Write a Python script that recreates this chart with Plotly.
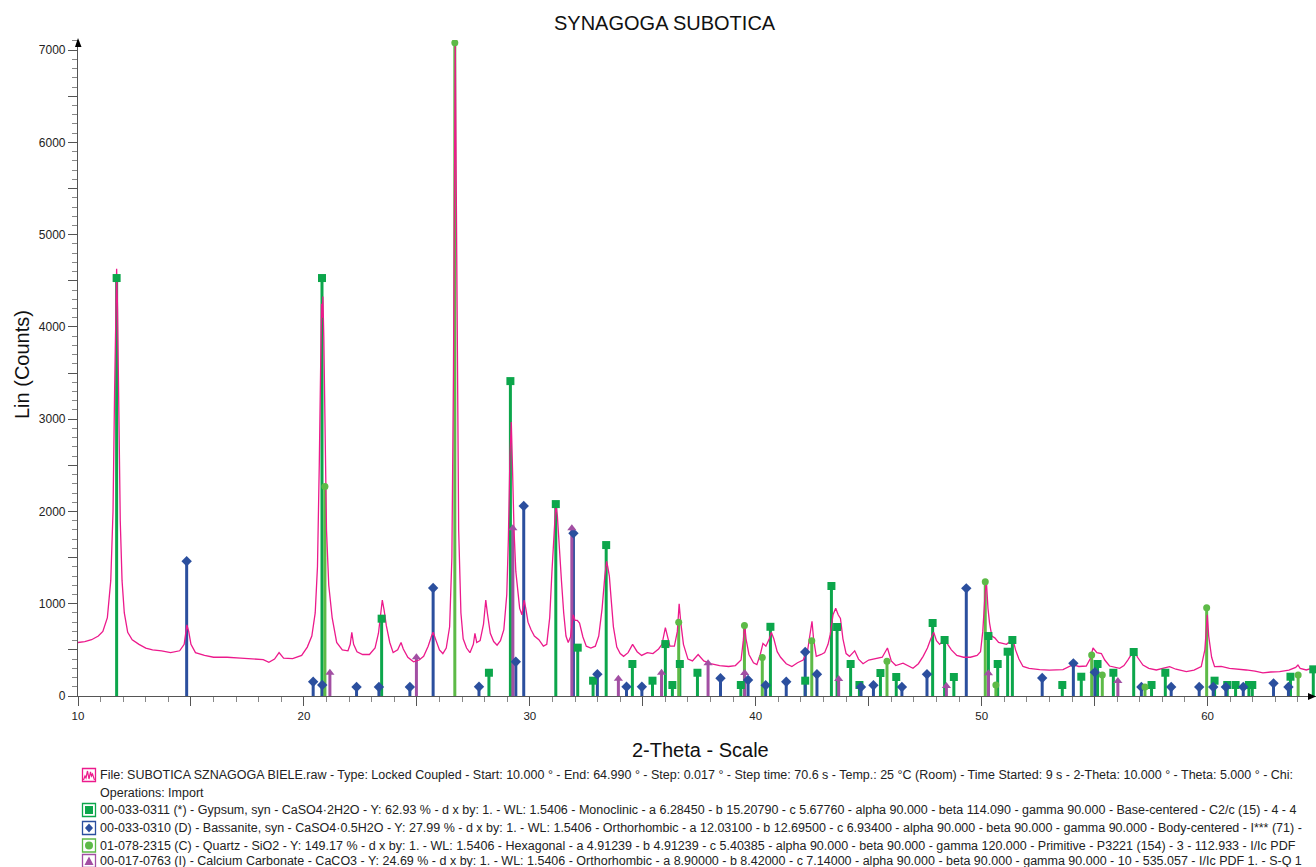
import plotly.graph_objects as go

# ---------------- data ----------------
# measured pattern (2-Theta, counts) read from the picture
scan_2theta = [
    10.0, 10.3, 10.6, 10.9, 11.1, 11.3, 11.45, 11.55, 11.62, 11.68, 11.71, 11.75, 11.8, 11.87, 11.95,
    12.05, 12.2, 12.4, 12.7, 13.0, 13.3, 13.7, 14.1, 14.5, 14.7, 14.82, 14.9, 15.0, 15.2, 15.6,
    16.0, 16.6, 17.2, 17.8, 18.2, 18.45, 18.7, 18.9, 19.1, 19.5, 19.9, 20.15, 20.35, 20.5, 20.6,
    20.68, 20.74, 20.78, 20.81, 20.84, 20.88, 20.95, 21.0, 21.1, 21.25, 21.45, 21.7, 21.95, 22.05,
    22.12, 22.2, 22.35, 22.6, 22.9, 23.15, 23.3, 23.42, 23.47, 23.55, 23.65, 23.8, 23.95, 24.15,
    24.3, 24.4, 24.6, 24.85, 25.1, 25.3, 25.5, 25.65, 25.72, 25.85, 26.0, 26.15, 26.3, 26.45,
    26.55, 26.62, 26.67, 26.7, 26.73, 26.78, 26.85, 26.95, 27.05, 27.2, 27.35, 27.5, 27.57, 27.65,
    27.8, 27.95, 28.05, 28.12, 28.25, 28.4, 28.55, 28.7, 28.85, 28.98, 29.05, 29.12, 29.18, 29.24,
    29.3, 29.38, 29.45, 29.55, 29.65, 29.75, 29.82, 29.92, 30.05, 30.2, 30.4, 30.6, 30.75, 30.88,
    30.98, 31.08, 31.15, 31.22, 31.3, 31.4, 31.5, 31.6, 31.7, 31.8, 31.92, 32.0, 32.1, 32.2, 32.35,
    32.5, 32.7, 32.9, 33.05, 33.2, 33.32, 33.4, 33.45, 33.52, 33.6, 33.7, 33.85, 34.0, 34.15, 34.35,
    34.55, 34.75, 34.95, 35.2, 35.45, 35.7, 35.85, 36.0, 36.1, 36.2, 36.4, 36.53, 36.61, 36.68,
    36.8, 37.0, 37.2, 37.45, 37.7, 38.0, 38.4, 38.8, 39.1, 39.35, 39.45, 39.51, 39.57, 39.7, 39.9,
    40.05, 40.2, 40.32, 40.45, 40.6, 40.69, 40.8, 40.95, 41.1, 41.35, 41.6, 41.85, 42.1, 42.3,
    42.42, 42.49, 42.56, 42.68, 42.9, 43.05, 43.2, 43.3, 43.42, 43.54, 43.65, 43.75, 43.86, 44.0,
    44.15, 44.38, 44.55, 44.75, 45.0, 45.34, 45.6, 45.83, 46.0, 46.2, 46.52, 46.96, 47.2, 47.41,
    47.6, 47.75, 47.88, 48.0, 48.14, 48.3, 48.38, 48.5, 48.66, 48.9, 49.2, 49.5, 49.8, 49.95,
    50.05, 50.15, 50.21, 50.28, 50.35, 50.45, 50.58, 50.75, 50.94, 51.1, 51.3, 51.39, 51.5, 51.65,
    51.83, 52.1, 52.57, 53.0, 53.6, 54.04, 54.3, 54.63, 54.8, 54.93, 55.1, 55.3, 55.45, 55.66,
    56.11, 56.3, 56.47, 56.6, 56.77, 56.9, 57.14, 57.4, 57.73, 58.0, 58.32, 58.6, 59.06, 59.4,
    59.72, 59.88, 59.99, 60.05, 60.1, 60.18, 60.31, 60.6, 60.97, 61.3, 61.71, 62.1, 62.45, 62.8,
    63.19, 63.6, 63.9, 64.0, 64.1, 64.37, 64.6, 64.99,
]
scan_counts = [
    580, 590, 610, 650, 700, 850, 1250, 2000, 3300, 4500, 4630, 4200, 3000, 1900, 1250,
    900, 690, 610, 560, 520, 500, 490, 470, 490, 560, 770, 700, 560, 470, 440,
    420, 420, 410, 405, 395, 365, 400, 470, 410, 405, 440, 530, 650, 900, 1400,
    2500, 3800, 4250, 4100, 4330, 3900, 2600, 1800, 1200, 850, 580, 500, 490, 560,
    690, 560, 480, 450, 450, 520, 680, 960, 1040, 930, 760, 580, 470, 500,
    580, 510, 420, 370, 390, 430, 540, 650, 690, 600, 500, 460, 520, 750,
    1500, 3500, 6000, 7060, 6000, 3800, 1800, 900, 620, 520, 470, 560, 680, 580,
    600, 780, 1040, 900, 680, 590, 550, 600, 720, 1100, 1700, 2600, 2970, 2400,
    1800, 1350, 1150, 950, 880, 1040, 950, 800, 720, 650, 610, 540, 560, 850,
    1350, 1850, 2080, 1950, 1600, 1250, 900, 650, 580, 640, 880, 820, 820, 790, 640,
    540, 520, 540, 650, 950, 1300, 1460, 1400, 1300, 1050, 750, 530, 460, 430, 470,
    560, 480, 440, 470, 460, 510, 560, 740, 640, 540, 540, 700, 1000, 800,
    560, 400, 380, 450, 380, 350, 330, 320, 330, 390, 600, 770, 620, 450, 360,
    340, 450, 570, 540, 620, 690, 620, 480, 420, 350, 320, 360, 390, 500,
    700, 810, 620, 430, 450, 470, 560, 670, 880, 950, 880, 840, 620, 460,
    430, 490, 400, 350, 390, 410, 420, 520, 380, 330, 355, 300, 350, 430,
    520, 620, 690, 600, 560, 600, 630, 560, 500, 440, 420, 420, 440, 480,
    700, 1100, 1240, 950, 790, 650, 630, 580, 570, 560, 600, 610, 500, 400,
    320, 300, 285, 280, 285, 340, 320, 325, 400, 520, 470, 460, 390, 325,
    300, 330, 390, 440, 480, 420, 336, 300, 282, 300, 318, 290, 264, 280,
    318, 500, 880, 650, 550, 420, 318, 320, 300, 295, 282, 270, 250, 260,
    264, 280, 310, 336, 300, 282, 300, 318,
]

# reference patterns (stick positions and heights)
gypsum_2theta = [11.71, 20.80, 23.44, 28.19, 29.14, 31.15, 32.12, 32.80, 33.38, 34.54, 35.43, 36.00,
                 36.31, 36.64, 37.42, 39.34, 40.65, 42.19, 43.35, 43.60, 44.20, 44.59, 45.52, 46.22,
                 47.83, 48.36, 48.77, 50.30, 50.71, 51.15, 51.36, 53.57, 54.41, 55.13, 55.83, 56.73,
                 57.52, 58.13, 60.31, 60.87, 61.24, 61.83, 61.98, 63.67, 64.68]
gypsum_counts = [4530, 4530, 838, 252, 3413, 2080, 524, 166, 1636, 347, 166, 563,
                 119, 347, 252, 119, 750, 166, 1192, 748, 347, 119, 249, 206,
                 791, 607, 206, 650, 347, 480, 607, 119, 209, 347, 252, 477,
                 119, 252, 166, 119, 119, 119, 119, 209, 289]

bassanite_2theta = [14.81, 20.41, 20.81, 22.33, 23.32, 24.69, 25.72, 27.75, 29.38, 29.73, 31.93, 32.99,
                    34.28, 34.96, 38.44, 39.66, 40.44, 41.35, 42.19, 42.71, 44.66, 45.21, 46.47, 47.58,
                    49.32, 52.68, 54.06, 55.01, 57.07, 58.39, 59.63, 60.25, 60.81, 61.58, 62.92, 63.58]
bassanite_counts = [1460, 155, 119, 97, 97, 97, 1170, 100, 372, 2059, 1763, 235,
                    101, 101, 192, 173, 116, 155, 477, 235, 97, 116, 97, 235,
                    1167, 195, 354, 257, 97, 97, 97, 97, 97, 97, 137, 97]

quartz_2theta = [20.93, 26.68, 36.59, 39.50, 40.29, 42.48, 45.81, 50.16, 50.63, 54.87, 55.34, 57.23,
                 59.96, 64.01]
quartz_counts = [2270, 7080, 798, 765, 417, 600, 376, 1239, 119, 444, 228, 97,
                 957, 228]

calcite_2theta = [21.15, 24.98, 29.25, 31.86, 33.92, 35.83, 37.89, 39.51, 43.67, 48.44, 50.30, 56.03]
calcite_counts = [252, 420, 1817, 1817, 186, 252, 354, 249, 184, 108, 246, 163]

x_tick_values = [10, 15, 20, 25, 30, 35, 40, 45, 50, 55, 60]
x_tick_labels = ["10", "", "20", "", "30", "", "40", "", "50", "", "60"]
y_tick_values = [0, 500, 1000, 1500, 2000, 2500, 3000, 3500, 4000, 4500, 5000, 5500, 6000, 6500, 7000]
y_tick_labels = ["0", "", "1000", "", "2000", "", "3000", "", "4000", "", "5000", "", "6000", "", "7000"]

legend_lines = [
    "File: SUBOTICA SZNAGOGA BIELE.raw - Type: Locked Coupled - Start: 10.000 ° - End: 64.990 ° - Step: 0.017 ° - Step time: 70.6 s - Temp.: 25 °C (Room) - Time Started: 9 s - 2-Theta: 10.000 ° - Theta: 5.000 ° - Chi:",
    "Operations: Import",
    "00-033-0311 (*) - Gypsum, syn - CaSO4·2H2O - Y: 62.93 % - d x by: 1. - WL: 1.5406 - Monoclinic - a 6.28450 - b 15.20790 - c 5.67760 - alpha 90.000 - beta 114.090 - gamma 90.000 - Base-centered - C2/c (15) - 4 - 4",
    "00-033-0310 (D) - Bassanite, syn - CaSO4·0.5H2O - Y: 27.99 % - d x by: 1. - WL: 1.5406 - Orthorhombic - a 12.03100 - b 12.69500 - c 6.93400 - alpha 90.000 - beta 90.000 - gamma 90.000 - Body-centered - I*** (71) -",
    "01-078-2315 (C) - Quartz - SiO2 - Y: 149.17 % - d x by: 1. - WL: 1.5406 - Hexagonal - a 4.91239 - b 4.91239 - c 5.40385 - alpha 90.000 - beta 90.000 - gamma 120.000 - Primitive - P3221 (154) - 3 - 112.933 - I/Ic PDF",
    "00-017-0763 (I) - Calcium Carbonate - CaCO3 - Y: 24.69 % - d x by: 1. - WL: 1.5406 - Orthorhombic - a 8.90000 - b 8.42000 - c 7.14000 - alpha 90.000 - beta 90.000 - gamma 90.000 - 10 - 535.057 - I/Ic PDF 1. - S-Q 1",
]

# ---------------- styles ----------------
W, H = 1316, 867
FONT = "Liberation Sans, Arial, sans-serif"
C_SCAN = "#EC1A8C"
C_GYP = "#0CA64B"
C_BAS = "#2B4F9E"
C_QTZ = "#5DBA47"
C_CAL = "#A24FA3"

PLOT_L, PLOT_R, PLOT_T, PLOT_B = 78, 1316, 40, 696


def fx(px):
    return px / W


def fy(py):
    return 1 - py / H


def sticks(xs, ys):
    sx, sy = [], []
    for a, b in zip(xs, ys):
        sx += [a, a, None]
        sy += [0, b, None]
    return sx, sy


fig = go.Figure()

phases = [
    ("Gypsum", gypsum_2theta, gypsum_counts, C_GYP, "square", 8),
    ("Bassanite", bassanite_2theta, bassanite_counts, C_BAS, "diamond", 8),
    ("Quartz", quartz_2theta, quartz_counts, C_QTZ, "circle", 7),
    ("Calcium Carbonate", calcite_2theta, calcite_counts, C_CAL, "triangle-up", 8),
]

for name, xs, ys, col, sym, sz in phases:
    sx, sy = sticks(xs, ys)
    fig.add_trace(go.Scatter(x=sx, y=sy, mode="lines", line=dict(color=col, width=3),
                             hoverinfo="skip", showlegend=False))

fig.add_trace(go.Scatter(x=scan_2theta, y=scan_counts, mode="lines",
                         line=dict(color=C_SCAN, width=1.3), showlegend=False, name="scan"))

for name, xs, ys, col, sym, sz in phases:
    fig.add_trace(go.Scatter(x=xs, y=ys, mode="markers",
                             marker=dict(symbol=sym, size=sz, color=col, line=dict(width=0)),
                             showlegend=False, name=name))

axis_col = "#555555"
fig.update_layout(
    width=W, height=H,
    margin=dict(l=0, r=0, t=0, b=0),
    template="none",
    paper_bgcolor="white", plot_bgcolor="white",
    showlegend=False,
    font=dict(family=FONT, color="#222222"),
    xaxis=dict(
        domain=[fx(PLOT_L), fx(PLOT_R)], range=[10, 64.8], automargin=False,
        showgrid=False, zeroline=False, showline=True, linecolor=axis_col, linewidth=1.2,
        tickmode="array", tickvals=x_tick_values, ticktext=x_tick_labels,
        ticks="outside", ticklen=9, tickwidth=1, tickcolor=axis_col,
        minor=dict(dtick=1, ticklen=5, tickcolor="#888888", tickwidth=1, ticks="outside", showgrid=False),
        tickfont=dict(size=11.5, color="#222222", family=FONT),
    ),
    yaxis=dict(
        domain=[fy(PLOT_B), fy(PLOT_T)], range=[0, 7110], automargin=False,
        showgrid=False, zeroline=False, showline=True, linecolor=axis_col, linewidth=1.2,
        tickmode="array", tickvals=y_tick_values, ticktext=y_tick_labels,
        ticks="outside", ticklen=9, tickwidth=1, tickcolor=axis_col,
        minor=dict(dtick=100, ticklen=5, tickcolor="#888888", tickwidth=1, ticks="outside", showgrid=False),
        tickfont=dict(size=12, color="#222222", family=FONT),
    ),
)

annotations = [
    dict(text="SYNAGOGA SUBOTICA", x=fx(665), y=fy(23), xref="paper", yref="paper",
         xanchor="center", yanchor="middle", showarrow=False,
         font=dict(size=20, family=FONT, color="#111111")),
    dict(text="2-Theta - Scale", x=fx(700), y=fy(750), xref="paper", yref="paper",
         xanchor="center", yanchor="middle", showarrow=False,
         font=dict(size=20, family=FONT, color="#111111")),
    dict(text="Lin (Counts)", x=fx(22), y=fy(365), xref="paper", yref="paper",
         xanchor="center", yanchor="middle", showarrow=False, textangle=-90,
         font=dict(size=20, family=FONT, color="#111111")),
]

line_y = [775, 793, 810, 828, 845.5, 861]
for txt, ly in zip(legend_lines, line_y):
    annotations.append(dict(text=txt, x=fx(97.5), y=fy(ly), xref="paper", yref="paper",
                            xanchor="left", yanchor="middle", showarrow=False,
                            font=dict(size=12.5, family=FONT, color="#222222")))

shapes = []
# axis arrows
shapes.append(dict(type="path", xref="paper", yref="paper",
                   path=f"M {fx(75)} {fy(47)} L {fx(81.5)} {fy(47)} L {fx(78)} {fy(38)} Z",
                   fillcolor="black", line=dict(width=0)))
shapes.append(dict(type="path", xref="paper", yref="paper",
                   path=f"M {fx(1308)} {fy(693)} L {fx(1308)} {fy(700)} L {fx(1316)} {fy(696.5)} Z",
                   fillcolor="black", line=dict(width=0)))

# legend icons
icon_cols = [C_SCAN, None, C_GYP, C_BAS, C_QTZ, C_CAL]
for col, ly in zip(icon_cols, line_y):
    if col is None:
        continue
    shapes.append(dict(type="rect", xref="paper", yref="paper",
                       x0=fx(82.5), x1=fx(95.5), y0=fy(ly + 6.5), y1=fy(ly - 6.5),
                       line=dict(color=col, width=1.3), fillcolor="white"))

cx = 89
# scan wave icon
ly = line_y[0]
wave = [(83.5, ly + 5), (85, ly + 1), (86, ly + 3), (87.5, ly - 4), (89, ly + 4), (90.5, ly - 3),
        (91.5, ly + 1), (92.5, ly - 1), (94.5, ly + 5)]
path = "M " + " L ".join(f"{fx(a)} {fy(b)}" for a, b in wave)
shapes.append(dict(type="path", xref="paper", yref="paper", path=path,
                   line=dict(color=C_SCAN, width=1.2)))
# gypsum square
ly = line_y[2]
shapes.append(dict(type="rect", xref="paper", yref="paper",
                   x0=fx(cx - 4), x1=fx(cx + 4), y0=fy(ly + 4), y1=fy(ly - 4),
                   line=dict(width=0), fillcolor=C_GYP))
# bassanite diamond
ly = line_y[3]
shapes.append(dict(type="path", xref="paper", yref="paper",
                   path=f"M {fx(cx)} {fy(ly - 4.5)} L {fx(cx + 4)} {fy(ly)} L {fx(cx)} {fy(ly + 4.5)} L {fx(cx - 4)} {fy(ly)} Z",
                   line=dict(width=0), fillcolor=C_BAS))
# quartz circle
ly = line_y[4]
shapes.append(dict(type="circle", xref="paper", yref="paper",
                   x0=fx(cx - 4), x1=fx(cx + 4), y0=fy(ly + 4), y1=fy(ly - 4),
                   line=dict(width=0), fillcolor=C_QTZ))
# calcium carbonate triangle
ly = line_y[5]
shapes.append(dict(type="path", xref="paper", yref="paper",
                   path=f"M {fx(cx - 4.5)} {fy(ly + 4)} L {fx(cx + 4.5)} {fy(ly + 4)} L {fx(cx)} {fy(ly - 4.5)} Z",
                   line=dict(width=0), fillcolor=C_CAL))

fig.update_layout(annotations=annotations, shapes=shapes)

fig.write_html("out.html", config={"displayModeBar": False},
               post_script="document.body.style.margin='0px';document.body.style.overflow='hidden';")
